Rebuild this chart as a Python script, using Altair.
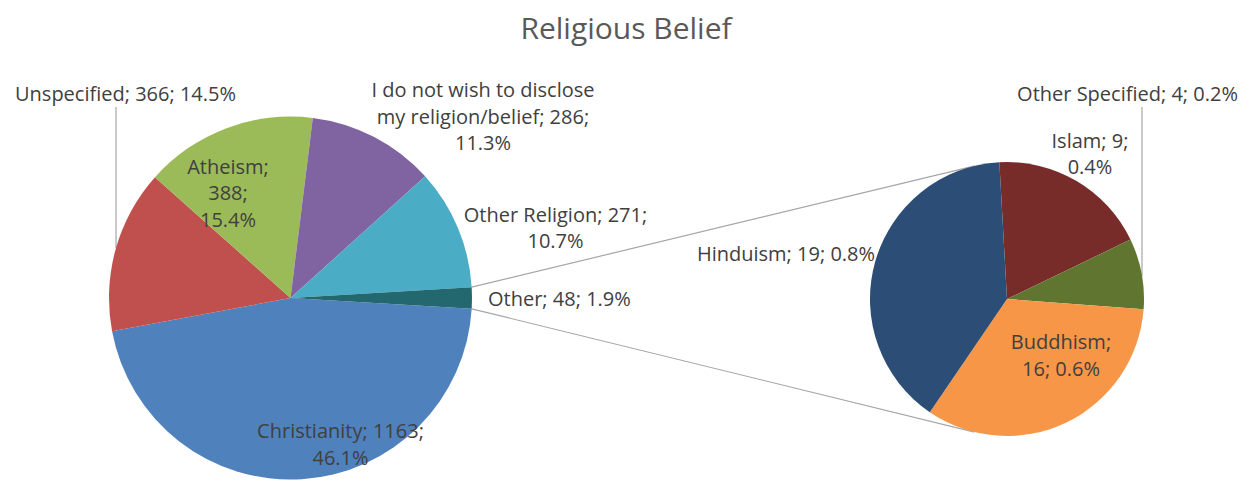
import math
import textwrap
import altair as alt
import pandas as pd

# ---------------- data ----------------
title_text = "Religious Belief"
main_names = ["Christianity", "Unspecified", "Atheism",
              "I do not wish to disclose my religion/belief", "Other Religion", "Other"]
main_values = [1163, 366, 388, 286, 271, 48]
sub_names = ["Islam", "Other Specified", "Buddhism", "Hinduism"]
sub_values = [9, 4, 16, 19]

# ---------------- style ----------------
main_colors = ["#4F81BD", "#C0504D", "#9BBB59", "#8064A2", "#4BACC6", "#23676F"]
sub_colors = ["#772C2A", "#5F7530", "#F79646", "#2C4D75"]
FONT = "Open Sans"
TEXT_COLOR = "#404040"
LABEL_SIZE = 20
LINE_H = 26.5
W, H = 1236, 415
PAD = {"left": 0, "right": 0, "top": 50, "bottom": 8}
MAIN_C = (282.5, 240.0)
MAIN_R = 181.5
SUB_C = (999.0, 241.0)
SUB_R = 137.0
SUB_START_DEG = -3.2

wrap_width = {"Christianity": 19, "Unspecified": 60, "Atheism": 9,
              "I do not wish to disclose my religion/belief": 25,
              "Other Religion": 20, "Other": 60,
              "Islam": 9, "Other Specified": 60, "Buddhism": 9, "Hinduism": 60}
# label block centre offsets from the centre of its pie (pixels)
label_offset = {"Christianity": (50, 147.5), "Unspecified": (-165, -203),
                "Atheism": (-62.5, -104),
                "I do not wish to disclose my religion/belief": (192.5, -180.5),
                "Other Religion": (265, -69), "Other": (197.5, 2),
                "Other Specified": (120.5, -204), "Islam": (83, -144),
                "Hinduism": (-221, -44), "Buddhism": (54, 57.5)}
left_aligned = {"Other"}
leader_angle = {"Unspecified": 286.0, "Other Specified": 80.2}

# ---------------- derived ----------------
total = sum(main_values)
all_names = main_names + sub_names
all_colors = main_colors + sub_colors


def label_lines(name, value):
    txt = f"{name}; {value}; {100 * value / total:.1f}%"
    return textwrap.wrap(txt, wrap_width[name])


other_frac = main_values[-1] / total
main_start = math.pi / 2 + other_frac * math.pi
sub_start = math.radians(SUB_START_DEG)


def polar(c, r, ang):
    return (c[0] + r * math.sin(ang), c[1] - r * math.cos(ang))


# label table (anchor = first line, so shift the block up to centre it)
rows = []
for names, values, c in ((main_names, main_values, MAIN_C), (sub_names, sub_values, SUB_C)):
    for n, v in zip(names, values):
        dx, dy = label_offset[n]
        lines = label_lines(n, v)
        rows.append({"name": n, "lines": lines, "x": c[0] + dx,
                     "y": c[1] + dy - (len(lines) - 1) * LINE_H / 2,
                     "left": n in left_aligned})
lab_df = pd.DataFrame(rows)

# connector lines: edges of the "Other" slice to tangents of the secondary pie
a1 = math.pi / 2 - other_frac * math.pi
a2 = math.pi / 2 + other_frac * math.pi
seg = []
for ang, sign in ((a1, -1), (a2, 1)):
    p = polar(MAIN_C, MAIN_R, ang)
    vx, vy = SUB_C[0] - p[0], SUB_C[1] - p[1]
    d = math.hypot(vx, vy)
    phi = math.atan2(vy, vx)
    alpha = math.asin(SUB_R / d)
    L = math.sqrt(d * d - SUB_R * SUB_R)
    t = (p[0] + L * math.cos(phi + sign * alpha), p[1] + L * math.sin(phi + sign * alpha))
    seg.append({"x": p[0], "y": p[1], "x2": t[0], "y2": t[1]})
# leader lines
for n, c, r in (("Unspecified", MAIN_C, MAIN_R), ("Other Specified", SUB_C, SUB_R)):
    e = polar(c, r, math.radians(leader_angle[n]))
    ly = c[1] + label_offset[n][1] + 12
    seg.append({"x": e[0], "y": ly, "x2": e[0], "y2": e[1]})
seg_df = pd.DataFrame(seg)

xs = alt.Scale(domain=[0, W], nice=False, zero=False)
ys = alt.Scale(domain=[0, H], nice=False, zero=False, reverse=True)
color = alt.Color("name:N", scale=alt.Scale(domain=all_names, range=all_colors), legend=None)


def pie(names, values, c, r, start):
    df = pd.DataFrame({"name": names, "value": values, "k": list(range(len(names)))})
    return alt.Chart(df).mark_arc(outerRadius=r).encode(
        theta=alt.Theta("value:Q", stack=True,
                        scale=alt.Scale(range=[start, start + 2 * math.pi])),
        color=color,
        order=alt.Order("k:Q"),
        x=alt.value(c[0]), y=alt.value(c[1]),
    )


main_pie = pie(main_names, main_values, MAIN_C, MAIN_R, main_start)
sub_pie = pie(sub_names, sub_values, SUB_C, SUB_R, sub_start)

rules = alt.Chart(seg_df).mark_rule(color="#A6A6A6", strokeWidth=1.2).encode(
    x=alt.X("x:Q", scale=xs, axis=None), y=alt.Y("y:Q", scale=ys, axis=None),
    x2="x2:Q", y2="y2:Q")

text_common = dict(font=FONT, fontSize=LABEL_SIZE, color=TEXT_COLOR,
                   baseline="middle", lineHeight=LINE_H)
labels_c = alt.Chart(lab_df).transform_filter("!datum.left").mark_text(
    align="center", **text_common).encode(
    x=alt.X("x:Q", scale=xs, axis=None), y=alt.Y("y:Q", scale=ys, axis=None),
    text="lines")
labels_l = alt.Chart(lab_df).transform_filter("datum.left").mark_text(
    align="left", **text_common).encode(
    x=alt.X("x:Q", scale=xs, axis=None), y=alt.Y("y:Q", scale=ys, axis=None),
    text="lines")

chart = alt.layer(rules, main_pie, sub_pie, labels_c, labels_l).resolve_scale(
    theta="independent"
).properties(
    width=W, height=H, padding=PAD, autosize="none",
    title=alt.TitleParams(title_text, font=FONT, fontSize=30, fontWeight="normal",
                          color="#595959", anchor="middle", offset=13),
).configure_view(stroke=None)

chart.save("out.html", embed_options={"renderer": "svg", "actions": False})
